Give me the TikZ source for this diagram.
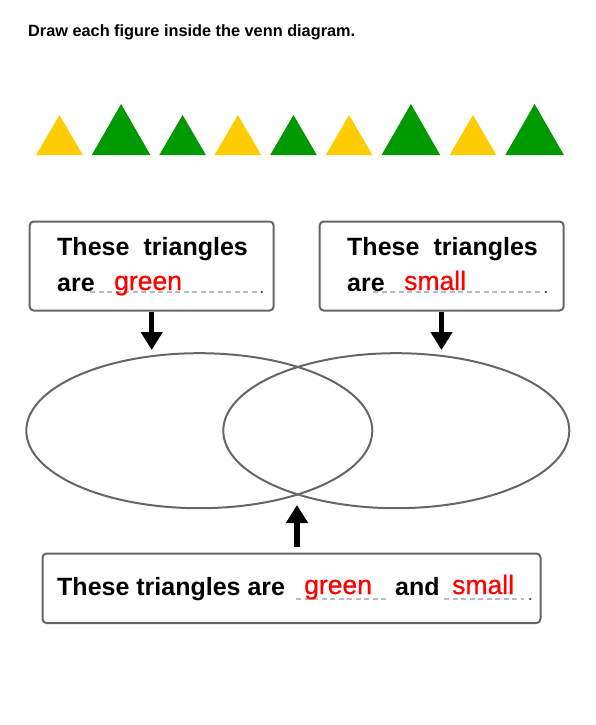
\documentclass[tikz,border=0pt]{standalone}
\usepackage{fontspec}
\setmainfont{Liberation Sans}
\newfontfamily\redwordfont[FakeBold=0.7]{Liberation Sans}
\usetikzlibrary{arrows.meta,shapes.geometric}
\definecolor{tyellow}{HTML}{FFCC00}
\definecolor{tgreen}{HTML}{009900}
\definecolor{frame}{HTML}{666666}
\definecolor{dashgray}{HTML}{BBBBBB}
\definecolor{dotgray}{HTML}{444444}
\tikzset{
  box/.style={draw=frame, line width=2pt, rounded corners=4pt, inner sep=0pt, fill=white},
  venn/.style={draw=frame, line width=2pt, ellipse, inner sep=0pt, minimum width=346pt, minimum height=155pt},
  blacktxt/.style={inner sep=0pt, anchor=base west, font=\fontsize{25}{30}\selectfont\bfseries},
  redtxt/.style={inner sep=0pt, anchor=base west, text=red, font=\fontsize{26.5}{32}\selectfont\redwordfont},
  dotmark/.style={inner sep=0pt, anchor=base, text=dotgray, font=\fontsize{13}{15}\selectfont\bfseries},
  blankline/.style={draw=dashgray, line width=1.4pt, dash pattern=on 5pt off 3.5pt},
  bigarrow/.style={line width=5.5pt, -{Triangle[width=21pt,length=18pt]}},
}
\begin{document}
\begin{tikzpicture}[x=1pt,y=-1pt]
\useasboundingbox (0,0) rectangle (595,725);
\fill[white] (0,0) rectangle (595,725);

% title
\node[inner sep=0pt, anchor=base west, font=\fontsize{16.3}{19}\selectfont\bfseries] (title) at (28,37) {Draw each figure inside the venn diagram.};

% triangles
\foreach \cx/\col/\hw/\ty in {59.5/tyellow/23.3/115, 121.1/tgreen/29.3/104, 182.6/tgreen/23.3/115, 237.9/tyellow/23.3/115, 293.5/tgreen/23.3/115, 349.1/tyellow/23.3/115, 410.9/tgreen/29.3/104, 473/tyellow/23.3/115, 534.6/tgreen/29.3/104}{
  \fill[\col] (\cx-\hw,155) -- (\cx,\ty) -- (\cx+\hw,155) -- cycle;
}

% boxes
\node[box, minimum width=244pt, minimum height=89pt] (b1) at (151.65,266) {};
\node[box, minimum width=244pt, minimum height=89pt] (b2) at (441.65,266) {};
\node[box, minimum width=498pt, minimum height=69.5pt] (b3) at (291.5,588.25) {};

% box 1 text
\node[blacktxt] (b1l1a) at (57,255) {These};
\node[blacktxt, anchor=base east] (b1l1b) at (248,255) {triangles};
\node[blacktxt] (b1l2) at (57,291) {are};
\draw[blankline] (90,292) -- (257,292);
\node[redtxt] (b1red) at (114,290) {green};
\node[dotmark] (b1dot) at (262,293) {.};

% box 2 text
\node[blacktxt] (b2l1a) at (347,255) {These};
\node[blacktxt, anchor=base east] (b2l1b) at (538,255) {triangles};
\node[blacktxt] (b2l2) at (347,291) {are};
\draw[blankline] (373,292) -- (541,292);
\node[redtxt] (b2red) at (404,290) {small};
\node[dotmark] (b2dot) at (546,293) {.};

% box 3 text
\node[blacktxt] (b3a) at (57,595) {These triangles are};
\draw[blankline] (296,599) -- (388,599);
\node[redtxt] (b3red1) at (304,594) {green};
\node[blacktxt] (b3and) at (395,595) {and};
\draw[blankline] (444,599) -- (524,599);
\node[redtxt] (b3red2) at (452,594) {small};
\node[dotmark] (b3dot) at (530.5,600.5) {.};

% venn ellipses
\node[venn] (vl) at (199.3,430.7) {};
\node[venn] (vr) at (396.3,430.7) {};

% arrows
\coordinate (t1) at (151.7,350);
\coordinate (t2) at (441.5,350);
\coordinate (t3) at (297,505);
\draw[bigarrow] (b1.south -| t1) -- (t1);
\draw[bigarrow] (b2.south -| t2) -- (t2);
\draw[bigarrow] (b3.north -| t3) ++(0,-6) -- (t3);
\end{tikzpicture}
\end{document}
